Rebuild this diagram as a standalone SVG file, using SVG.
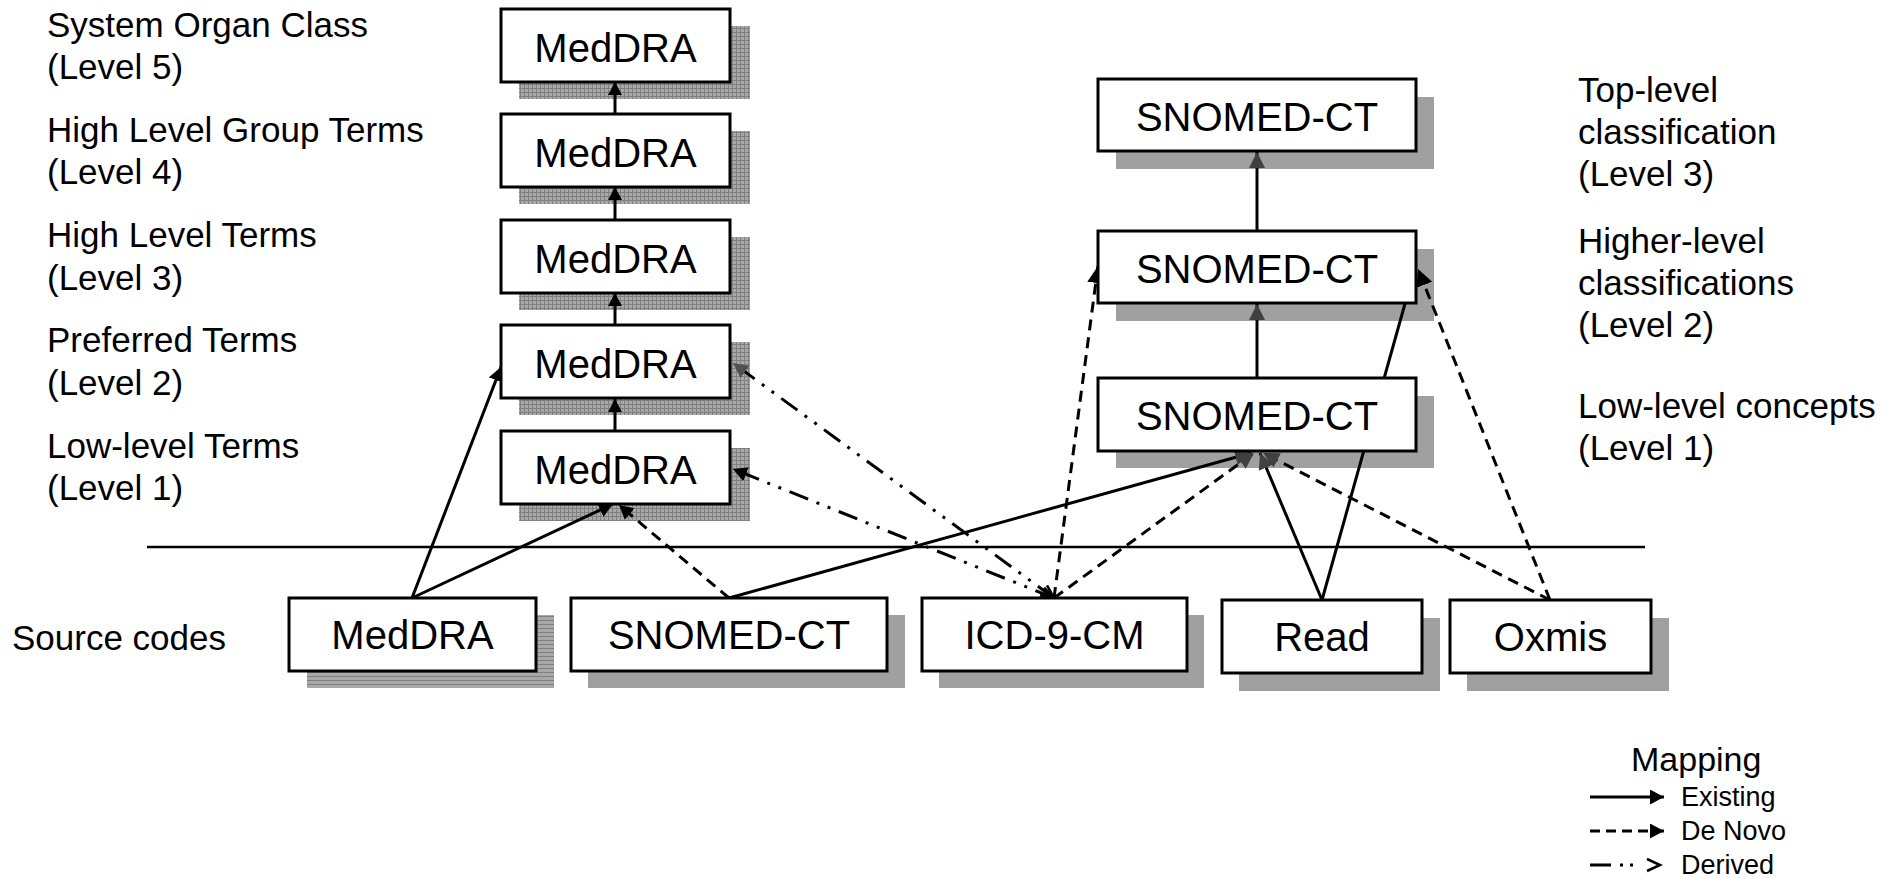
<svg xmlns="http://www.w3.org/2000/svg" width="1895" height="879" viewBox="0 0 1895 879">
<style>
.box{fill:#fff;stroke:#000;stroke-width:3}
.t{font-family:"Liberation Sans",Arial,sans-serif;font-size:40px;text-anchor:middle;fill:#000}
.lbl{font-family:"Liberation Sans",Arial,sans-serif;font-size:35px;fill:#000}
.leg{font-family:"Liberation Sans",Arial,sans-serif;font-size:26px;fill:#000}
.sh{fill:#a0a0a0}
.shg{fill:url(#grid)}
.shs{fill:url(#hstripe)}
.c{fill:none;stroke:#000;stroke-width:3}
.dash{stroke-dasharray:11 7}
.der{stroke-dasharray:20 9 3 9 3 9}
</style>
<defs>
<pattern id="grid" width="4" height="4" patternUnits="userSpaceOnUse">
<rect width="4" height="4" fill="#a8a8a8"/>
<path d="M0,0.5 H4 M0.5,0 V4" stroke="#808080" stroke-width="1"/>
</pattern>
<pattern id="hstripe" width="4" height="4" patternUnits="userSpaceOnUse">
<rect width="4" height="4" fill="#a8a8a8"/>
<path d="M0,0.5 H4" stroke="#808080" stroke-width="1"/>
</pattern>
<marker id="ah" markerUnits="userSpaceOnUse" markerWidth="14" markerHeight="14" refX="13" refY="7" orient="auto">
<path d="M0,0 L13,7 L0,14 z" fill="#000"/>
</marker>
<marker id="ahl" markerUnits="userSpaceOnUse" markerWidth="16" markerHeight="16" refX="14" refY="7.5" orient="auto">
<path d="M0,0 L14,7.5 L0,15 z" fill="#000"/>
</marker>
<marker id="ah16" markerUnits="userSpaceOnUse" markerWidth="18" markerHeight="18" refX="17" refY="8.5" orient="auto">
<path d="M0,0 L17,8.5 L0,17 z" fill="#000"/>
</marker>
<marker id="ahg" markerUnits="userSpaceOnUse" markerWidth="17" markerHeight="17" refX="16" refY="8" orient="auto">
<path d="M0,0 L16,8 L0,16 z" fill="#404040"/>
</marker>
<marker id="ahd" markerUnits="userSpaceOnUse" markerWidth="16" markerHeight="16" refX="15" refY="7.5" orient="auto">
<path d="M0,0 L15,7.5 L0,15 z" fill="#505050"/>
</marker>
<marker id="chev" markerUnits="userSpaceOnUse" markerWidth="18" markerHeight="18" refX="15" refY="8" orient="auto-start-reverse">
<path d="M2,2 L15,8 L2,14" fill="none" stroke="#000" stroke-width="2.5"/>
</marker>
</defs>
<rect width="1895" height="879" fill="#fff"/>

<!-- level labels -->
<g id="labels-left" class="lbl">
<text x="47" y="37">System Organ Class</text>
<text x="47" y="79">(Level 5)</text>
<text x="47" y="142">High Level Group Terms</text>
<text x="47" y="184">(Level 4)</text>
<text x="47" y="247">High Level Terms</text>
<text x="47" y="290">(Level 3)</text>
<text x="47" y="352">Preferred Terms</text>
<text x="47" y="395">(Level 2)</text>
<text x="47" y="458">Low-level Terms</text>
<text x="47" y="500">(Level 1)</text>
<text x="12" y="650">Source codes</text>
</g>
<g id="labels-right" class="lbl">
<text x="1578" y="102">Top-level</text>
<text x="1578" y="144">classification</text>
<text x="1578" y="186">(Level 3)</text>
<text x="1578" y="253">Higher-level</text>
<text x="1578" y="295">classifications</text>
<text x="1578" y="337">(Level 2)</text>
<text x="1578" y="418">Low-level concepts</text>
<text x="1578" y="460">(Level 1)</text>
</g>

<!-- separator -->
<line x1="147" y1="547" x2="1645" y2="547" stroke="#000" stroke-width="2.5"/>

<!-- shadows -->
<g id="shadows">
<rect class="shg" x="519" y="26" width="231" height="73"/>
<rect class="shg" x="519" y="131" width="231" height="73"/>
<rect class="shg" x="519" y="237" width="231" height="73"/>
<rect class="shg" x="519" y="342" width="231" height="73"/>
<rect class="shg" x="519" y="448" width="231" height="73"/>
<rect class="sh" x="1116" y="97" width="318" height="72"/>
<rect class="sh" x="1116" y="249" width="318" height="72"/>
<rect class="sh" x="1116" y="396" width="318" height="72"/>
<rect class="shs" x="307" y="615" width="247" height="73"/>
<rect class="sh" x="588" y="615" width="317" height="73"/>
<rect class="sh" x="939" y="615" width="265" height="73"/>
<rect class="sh" x="1239" y="618" width="201" height="73"/>
<rect class="sh" x="1467" y="618" width="202" height="73"/>
</g>

<!-- connectors -->
<g id="connectors">
<path class="c" d="M615,431 L615,399" marker-end="url(#ah)"/>
<path class="c" d="M615,325 L615,293" marker-end="url(#ah)"/>
<path class="c" d="M615,220 L615,187" marker-end="url(#ah)"/>
<path class="c" d="M615,114 L615,82" marker-end="url(#ah)"/>
<path class="c" d="M1257,378 L1257,304" marker-end="url(#ahg)"/>
<path class="c" d="M1257,231 L1257,152" marker-end="url(#ahg)"/>
<path class="c" d="M412,598 L501,367" marker-end="url(#ahl)"/>
<path class="c" d="M412,598 L613,504" marker-end="url(#ahl)"/>
<path class="c dash" d="M729,598 L619,505" marker-end="url(#ahl)"/>
<path class="c" d="M729,598 L1251,453" marker-end="url(#ahg)"/>
<path class="c der" d="M1054,598 L733,363" marker-start="url(#chev)" marker-end="url(#ahd)"/>
<path class="c der" d="M1054,598 L733,469" marker-start="url(#chev)" marker-end="url(#ahl)"/>
<path class="c dash" d="M1054,598 L1098,266" marker-end="url(#ah16)"/>
<path class="c dash" d="M1054,598 L1254,453" marker-end="url(#ahg)"/>
<path class="c" d="M1322,600 L1260,453" marker-end="url(#ahg)"/>
<path class="c" d="M1322,600 L1415,268" marker-end="url(#ah16)"/>
<path class="c dash" d="M1550,600 L1418,269" marker-end="url(#ah16)"/>
<path class="c dash" d="M1550,600 L1263,453" marker-end="url(#ahg)"/>
</g>

<!-- MedDRA hierarchy -->
<g id="meddra-soc"><rect class="box" x="501" y="9" width="229" height="73"/><text class="t" x="615.5" y="62">MedDRA</text></g>
<g id="meddra-hlgt"><rect class="box" x="501" y="114" width="229" height="73"/><text class="t" x="615.5" y="167">MedDRA</text></g>
<g id="meddra-hlt"><rect class="box" x="501" y="220" width="229" height="73"/><text class="t" x="615.5" y="273">MedDRA</text></g>
<g id="meddra-pt"><rect class="box" x="501" y="325" width="229" height="73"/><text class="t" x="615.5" y="378">MedDRA</text></g>
<g id="meddra-llt"><rect class="box" x="501" y="431" width="229" height="73"/><text class="t" x="615.5" y="484">MedDRA</text></g>

<!-- SNOMED hierarchy -->
<g id="snomed-top"><rect class="box" x="1098" y="79" width="318" height="72"/><text class="t" x="1257" y="131">SNOMED-CT</text></g>
<g id="snomed-higher"><rect class="box" x="1098" y="231" width="318" height="72"/><text class="t" x="1257" y="283">SNOMED-CT</text></g>
<g id="snomed-low"><rect class="box" x="1098" y="378" width="318" height="73"/><text class="t" x="1257" y="430">SNOMED-CT</text></g>

<!-- source codes -->
<g id="src-meddra"><rect class="box" x="289" y="598" width="247" height="73"/><text class="t" x="412.5" y="649">MedDRA</text></g>
<g id="src-snomed"><rect class="box" x="571" y="598" width="316" height="73"/><text class="t" x="729" y="649">SNOMED-CT</text></g>
<g id="src-icd"><rect class="box" x="922" y="598" width="265" height="73"/><text class="t" x="1054.5" y="649">ICD-9-CM</text></g>
<g id="src-read"><rect class="box" x="1222" y="600" width="200" height="73"/><text class="t" x="1322" y="651">Read</text></g>
<g id="src-oxmis"><rect class="box" x="1450" y="600" width="201" height="73"/><text class="t" x="1550.5" y="651">Oxmis</text></g>

<!-- legend -->
<g id="legend">
<text x="1631" y="771" style="font-family:'Liberation Sans',Arial,sans-serif;font-size:34px">Mapping</text>
<path class="c" d="M1590,797 L1664,797" marker-end="url(#ahl)"/>
<text class="leg" x="1681" y="806" style="font-size:27px">Existing</text>
<path class="c" d="M1590,831 L1664,831" style="stroke-dasharray:10 6" marker-end="url(#ahl)"/>
<text class="leg" x="1681" y="840" style="font-size:27px">De Novo</text>
<path class="c" d="M1590,865 L1660,865" style="stroke-dasharray:21 9 3 7 3 40" marker-end="url(#chev)"/>
<text class="leg" x="1681" y="874" style="font-size:27px">Derived</text>
</g>
</svg>
